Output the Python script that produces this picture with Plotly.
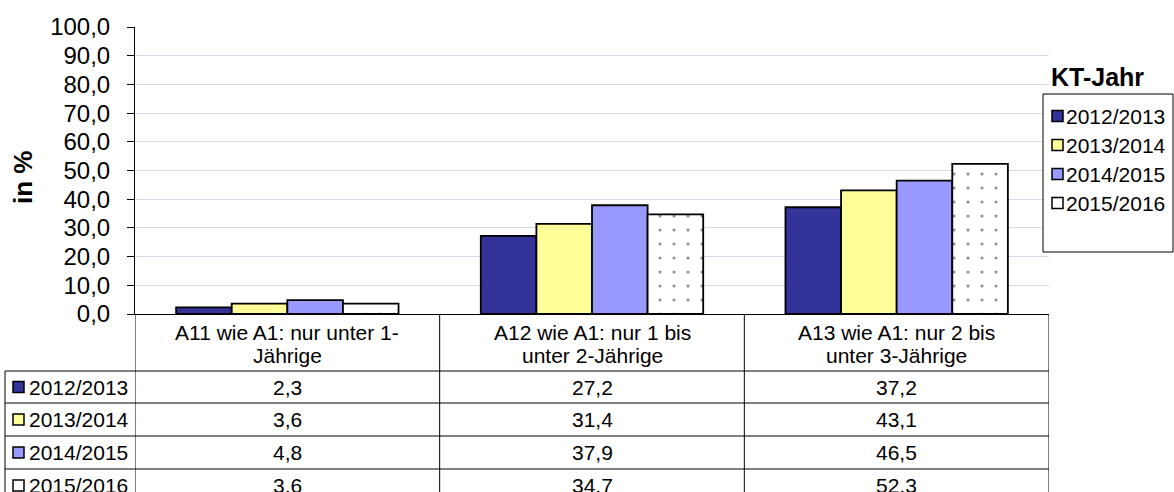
import plotly.graph_objects as go

categories = ["A11", "A12", "A13"]
header_labels = [
    ["A11 wie A1: nur unter 1-", "Jährige"],
    ["A12 wie A1: nur 1 bis", "unter 2-Jährige"],
    ["A13 wie A1: nur 2 bis", "unter 3-Jährige"],
]
years = ["2012/2013", "2013/2014", "2014/2015", "2015/2016"]
val_2012 = [2.3, 27.2, 37.2]
val_2013 = [3.6, 31.4, 43.1]
val_2014 = [4.8, 37.9, 46.5]
val_2015 = [3.6, 34.7, 52.3]
y_ticks = [0, 10, 20, 30, 40, 50, 60, 70, 80, 90, 100]

series = [val_2012, val_2013, val_2014, val_2015]
colors = ["#333399", "#ffff99", "#9999ff", "#ffffff"]

FONT = "Arial, Liberation Sans, sans-serif"
W, H = 1174, 492
L, R, T, B = 135, 1049, 27, 314
TXT = 21


def px(x):
    # pixel -> paper x
    return (x - L) / (R - L)


def py(y):
    # pixel -> paper y
    return (B - y) / (B - T)


fig = go.Figure()
for i, (name, vals) in enumerate(zip(years, series)):
    marker = dict(color=colors[i], line=dict(color="black", width=1.8))
    if i == 3:
        marker["pattern"] = dict(shape=".", fgcolor="#222222", bgcolor="white",
                                 size=14, solidity=0.04)
    fig.add_trace(go.Bar(x=categories, y=vals, name=name, marker=marker, showlegend=False))

shapes = []
annotations = []

# table grid
row_lines = [371, 403, 436, 469, 502]
for yl in row_lines[:-1]:
    shapes.append(dict(type="line", xref="paper", yref="paper", x0=px(5), x1=1,
                       y0=py(yl), y1=py(yl), line=dict(color="black", width=1)))
for k in range(len(categories) + 1):
    shapes.append(dict(type="line", xref="x", yref="paper", x0=k - 0.5, x1=k - 0.5,
                       y0=0, y1=py(row_lines[-1]), line=dict(color="black", width=1)))
shapes.append(dict(type="line", xref="paper", yref="paper", x0=px(5), x1=px(5),
                   y0=py(371), y1=py(502), line=dict(color="black", width=1)))

# header row, two lines per category
for k, lines in enumerate(header_labels):
    for j, line in enumerate(lines):
        annotations.append(dict(x=k, y=py(332 + 23 * j), xref="x", yref="paper", text=line,
                                showarrow=False, font=dict(size=TXT, color="black"),
                                xanchor="center", yanchor="middle"))

# data rows
for i, (name, vals) in enumerate(zip(years, series)):
    yc = (row_lines[i] + row_lines[i + 1]) / 2
    shapes.append(dict(type="rect", xref="paper", yref="paper",
                       x0=px(13), x1=px(24), y0=py(yc - 5.5), y1=py(yc + 5.5),
                       fillcolor=colors[i], line=dict(color="black", width=1.5)))
    annotations.append(dict(x=px(27), y=py(yc), xref="paper", yref="paper", text=name,
                            showarrow=False, font=dict(size=TXT, color="black"),
                            xanchor="left", yanchor="middle"))
    for k, v in enumerate(vals):
        annotations.append(dict(x=k, y=py(yc), xref="x", yref="paper",
                                text=f"{v:.1f}".replace(".", ","), showarrow=False,
                                font=dict(size=TXT, color="black"),
                                xanchor="center", yanchor="middle"))

# legend
shapes.append(dict(type="rect", xref="paper", yref="paper", x0=px(1043), x1=px(1173),
                   y0=py(94), y1=py(252), fillcolor="white",
                   line=dict(color="black", width=1), layer="above"))
annotations.append(dict(x=px(1049), y=py(77), xref="paper", yref="paper",
                        text="<b>KT-Jahr</b>", showarrow=False,
                        font=dict(size=25, color="black"), xanchor="left", yanchor="middle"))
leg_y = [116, 145, 174, 203]
for i, name in enumerate(years):
    shapes.append(dict(type="rect", xref="paper", yref="paper",
                       x0=px(1052), x1=px(1063), y0=py(leg_y[i] - 5.5), y1=py(leg_y[i] + 5.5),
                       fillcolor=colors[i], line=dict(color="black", width=1.5), layer="above"))
    annotations.append(dict(x=px(1064), y=py(leg_y[i]), xref="paper", yref="paper", text=name,
                            showarrow=False, font=dict(size=TXT, color="black"),
                            xanchor="left", yanchor="middle"))

# y axis title
annotations.append(dict(x=px(23), y=py(178), xref="paper", yref="paper", text="<b>in %</b>",
                        textangle=-90, showarrow=False, font=dict(size=26, color="black"),
                        xanchor="center", yanchor="middle"))

fig.update_layout(
    width=W, height=H,
    margin=dict(l=L, r=W - R, t=T, b=H - B, pad=0),
    paper_bgcolor="white", plot_bgcolor="white",
    font=dict(family=FONT, color="black"),
    separators=",.",
    barmode="group", bargap=0.27, bargroupgap=0,
    xaxis=dict(range=[-0.5, 2.5], showticklabels=False, ticks="", showgrid=False,
               showline=True, linecolor="black", linewidth=1, zeroline=False),
    yaxis=dict(range=[0, 100], tickvals=y_ticks, tickformat=".1f", showgrid=True,
               gridcolor="#d3dbef", gridwidth=1, showline=True, linecolor="black",
               linewidth=1, ticks="outside", ticklen=7, tickcolor="black",
               tickfont=dict(size=24, color="black"), ticklabelstandoff=12,
               zeroline=False),
    shapes=shapes,
    annotations=annotations,
)

fig.write_html("out.html", config={"displayModeBar": False},
               post_script="document.body.style.margin='0';")
